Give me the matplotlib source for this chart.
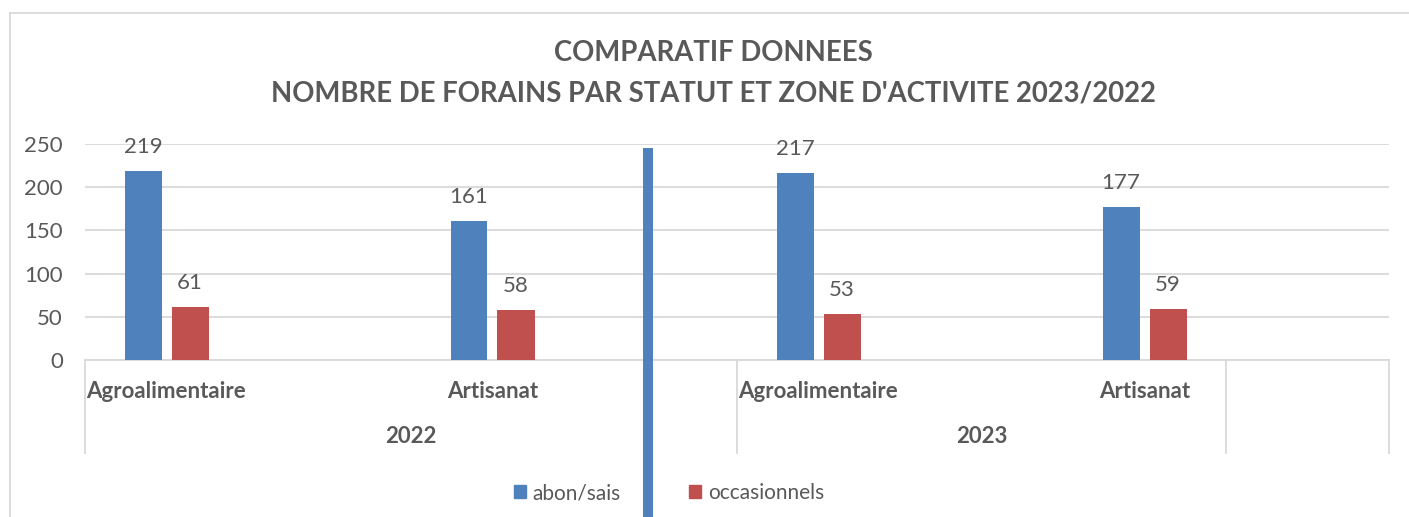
import matplotlib
matplotlib.use("Agg")
import matplotlib.pyplot as plt
from matplotlib.lines import Line2D
from matplotlib.patches import Patch

plt.rcParams['font.family'] = ['Lato', 'DejaVu Sans']

# ---- data ----
years = ["2022", "2023"]
categories = ["Agroalimentaire", "Artisanat"]
# slots on the category axis (blank slots between categories as in the source)
slot_labels = ["Agroalimentaire", "", "Artisanat", "", "Agroalimentaire", "", "Artisanat", ""]
abon_sais = [219, None, 161, None, 217, None, 177, None]
occasionnels = [61, None, 58, None, 53, None, 59, None]
series_names = ["abon/sais", "occasionnels"]
yticks = [0, 50, 100, 150, 200, 250]
title = "COMPARATIF DONNEES\nNOMBRE DE FORAINS PAR STATUT ET ZONE D'ACTIVITE 2023/2022"

BLUE = "#4F81BD"
RED = "#C0504D"
GRID = "#D9D9D9"
TXT = "#595959"

W, H = 1409, 517
fig = plt.figure(figsize=(W / 100, H / 100), dpi=100)
ax = fig.add_axes([85 / W, (H - 360) / H, (1389 - 85) / W, 216 / H])

n = len(slot_labels)
bw = 37 / 163
off = 23.5 / 163
for i in range(n):
    if abon_sais[i] is not None:
        ax.bar(i - off, abon_sais[i], width=bw, color=BLUE, zorder=3)
        ax.annotate(str(abon_sais[i]), (i - off, abon_sais[i]), xytext=(0, 10),
                    textcoords="offset points", ha="center", va="bottom",
                    fontsize=16, color=TXT)
    if occasionnels[i] is not None:
        ax.bar(i + off, occasionnels[i], width=bw, color=RED, zorder=3)
        ax.annotate(str(occasionnels[i]), (i + off, occasionnels[i]), xytext=(0, 10),
                    textcoords="offset points", ha="center", va="bottom",
                    fontsize=16, color=TXT)

ax.set_xlim(-0.5, n - 0.5)
ax.set_ylim(0, 250)
ax.set_yticks(yticks)
ax.set_yticklabels([str(v) for v in yticks], fontsize=16, color=TXT)
ax.tick_params(axis="y", length=0, pad=16)
ax.set_xticks([])
ax.grid(axis="y", color=GRID, linewidth=1.3, zorder=0)
for s in ["top", "right", "left"]:
    ax.spines[s].set_visible(False)
ax.spines["bottom"].set_color(GRID)
ax.spines["bottom"].set_linewidth(1.3)

trans = ax.get_xaxis_transform()
# category labels
for i, lab in enumerate(slot_labels):
    if lab:
        ax.text(i, -0.144, lab, transform=trans, ha="center", va="center",
                fontsize=16, fontweight="bold", color=TXT)
# year group labels & separators
group_bounds = [(-0.5, 3.5), (3.5, 6.5), (6.5, 7.5)]
group_labels = ["2022", "2023", ""]
for (a, b), lab in zip(group_bounds, group_labels):
    if lab:
        ax.text((a + b) / 2, -0.356, lab, transform=trans, ha="center", va="center",
                fontsize=16, fontweight="bold", color=TXT)
for x in [-0.5, 3.5, 6.5, 7.5]:
    ax.add_line(Line2D([x, x], [0, -0.43], transform=trans, color=GRID,
                       linewidth=1.3, clip_on=False))

# title
fig.text(713 / W, (H - 73) / H, title, ha="center", va="center", fontsize=19.8,
         fontweight="bold", color=TXT, linespacing=1.68)

# legend
handles = [Patch(color=BLUE), Patch(color=RED)]
fig.legend(handles, series_names, loc="center", bbox_to_anchor=(669 / W, (H - 493) / H),
           ncol=2, frameon=False, fontsize=15, handlelength=0.58, handleheight=0.58,
           handletextpad=0.3, columnspacing=3.3, labelcolor=TXT)

# frame of the chart area
fig.add_artist(Line2D([10 / W, 10 / W], [0, (H - 13) / H], transform=fig.transFigure,
                      color=GRID, linewidth=1.3))
fig.add_artist(Line2D([10 / W, 1], [(H - 13) / H, (H - 13) / H], transform=fig.transFigure,
                      color=GRID, linewidth=1.3))
# stray blue vertical stroke seen in the source image
fig.add_artist(Line2D([648 / W, 648 / W], [0, (H - 148) / H], transform=fig.transFigure,
                      color=BLUE, linewidth=7.2, solid_capstyle="butt"))

fig.savefig("out.png", dpi=100)
